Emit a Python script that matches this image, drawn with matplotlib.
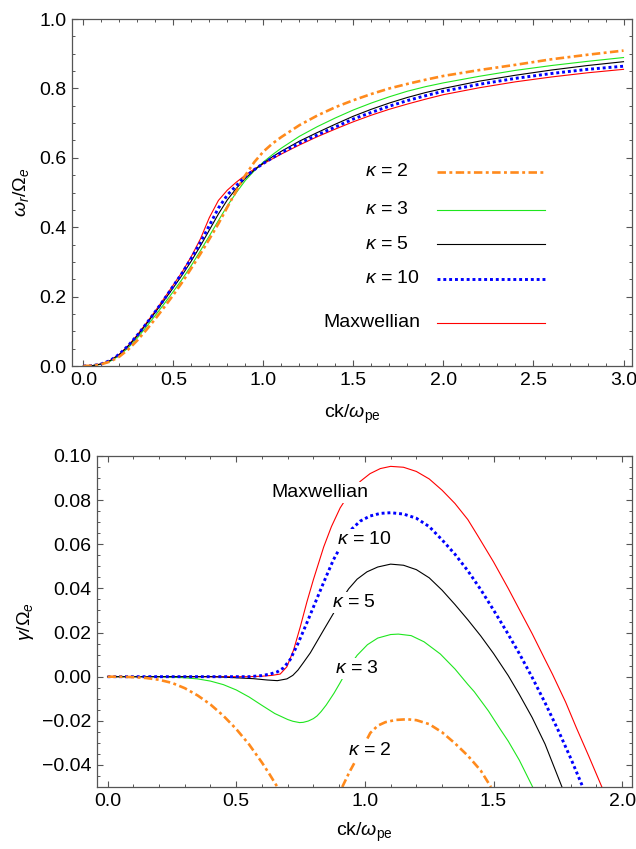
import matplotlib
matplotlib.use('Agg')
import matplotlib.pyplot as plt
from matplotlib.ticker import MultipleLocator, FuncFormatter

plt.rcParams['font.family'] = ['Liberation Sans', 'DejaVu Sans']
plt.rcParams['mathtext.fontset'] = 'custom'
plt.rcParams['mathtext.rm'] = 'Liberation Sans'
plt.rcParams['mathtext.it'] = 'Liberation Sans:italic'
plt.rcParams['axes.unicode_minus'] = True

# ---- real frequency  w_r / Omega_e  vs  ck / w_pe -------------------------
k_top = [0, 0.05, 0.1, 0.15, 0.2, 0.25, 0.3, 0.35, 0.4, 0.45, 0.5, 0.55, 0.6,
         0.65, 0.7, 0.75, 0.8, 0.85, 0.9, 0.95, 1.0, 1.05, 1.1, 1.2, 1.3, 1.4,
         1.5, 1.6, 1.7, 1.8, 1.9, 2.0, 2.2, 2.4, 2.6, 2.8, 3.0]
wr_k2 = [0, 0.001, 0.005, 0.013, 0.027, 0.048, 0.074, 0.104, 0.136, 0.170,
         0.205, 0.242, 0.282, 0.323, 0.366, 0.410, 0.458, 0.505, 0.550, 0.588,
         0.618, 0.641, 0.660, 0.694, 0.722, 0.746, 0.766, 0.784, 0.800, 0.813,
         0.825, 0.836, 0.853, 0.868, 0.884, 0.897, 0.909]
wr_k3 = [0, 0.001, 0.005, 0.014, 0.030, 0.053, 0.081, 0.113, 0.146, 0.180,
         0.215, 0.251, 0.290, 0.332, 0.375, 0.419, 0.462, 0.500, 0.535, 0.563,
         0.588, 0.609, 0.628, 0.662, 0.690, 0.715, 0.738, 0.758, 0.776, 0.792,
         0.805, 0.816, 0.835, 0.852, 0.866, 0.878, 0.889]
wr_k5 = [0, 0.001, 0.006, 0.016, 0.033, 0.058, 0.087, 0.121, 0.155, 0.190,
         0.226, 0.263, 0.303, 0.346, 0.392, 0.438, 0.479, 0.512, 0.541, 0.565,
         0.585, 0.603, 0.619, 0.648, 0.673, 0.697, 0.720, 0.740, 0.758, 0.774,
         0.788, 0.800, 0.821, 0.838, 0.853, 0.866, 0.877]
wr_k10 = [0, 0.001, 0.006, 0.016, 0.034, 0.059, 0.089, 0.122, 0.157, 0.193,
          0.231, 0.269, 0.311, 0.356, 0.405, 0.455, 0.493, 0.520, 0.546, 0.566,
          0.584, 0.600, 0.615, 0.642, 0.666, 0.689, 0.712, 0.731, 0.749, 0.765,
          0.779, 0.792, 0.812, 0.829, 0.843, 0.855, 0.864]
wr_max = [0, 0.001, 0.006, 0.016, 0.034, 0.059, 0.090, 0.124, 0.159, 0.196,
          0.234, 0.272, 0.316, 0.366, 0.428, 0.477, 0.507, 0.530, 0.550, 0.568,
          0.583, 0.597, 0.611, 0.637, 0.661, 0.683, 0.704, 0.723, 0.740, 0.755,
          0.769, 0.782, 0.802, 0.819, 0.833, 0.845, 0.855]

# ---- growth rate  gamma / Omega_e  vs  ck / w_pe ---------------------------
k_g2a = [0, 0.05, 0.1, 0.15, 0.2, 0.25, 0.3, 0.35, 0.4, 0.45, 0.5, 0.55, 0.6,
         0.63, 0.66]
g_k2a = [0, 0, -0.0002, -0.0006, -0.0014, -0.0028, -0.0052, -0.0085, -0.0126,
         -0.0177, -0.0237, -0.0307, -0.0389, -0.0443, -0.0500]
k_g2b = [0.912, 0.94, 0.969, 1.0, 1.021, 1.05, 1.08, 1.12, 1.164, 1.2, 1.25,
         1.3, 1.35, 1.4, 1.45, 1.49]
g_k2b = [-0.0500, -0.0432, -0.0370, -0.0302, -0.0255, -0.0222, -0.0206,
         -0.0196, -0.0193, -0.0197, -0.0215, -0.0252, -0.0302, -0.0358,
         -0.0425, -0.0500]

k_g3 = [0, 0.2, 0.25, 0.3, 0.35, 0.4, 0.45, 0.5, 0.55, 0.6, 0.65, 0.7, 0.72,
        0.746, 0.76, 0.78, 0.8, 0.814, 0.83, 0.85, 0.88, 0.904, 0.94, 0.97, 1.01,
        1.05, 1.1, 1.13, 1.18, 1.23, 1.293, 1.35, 1.4, 1.425, 1.48, 1.526,
        1.557, 1.6, 1.652]
g_k3 = [0, 0, -0.0002, -0.0005, -0.0010, -0.0020, -0.0036, -0.0060, -0.0092,
        -0.0130, -0.0167, -0.0194, -0.0202, -0.0208, -0.0207, -0.0201, -0.0190,
        -0.0178, -0.0158, -0.0128, -0.0075, -0.0027, 0.0048, 0.0097, 0.0145,
        0.0175, 0.0191, 0.0193, 0.0186, 0.0158, 0.0103, 0.0035, -0.0035,
        -0.0068, -0.0155, -0.0238, -0.0292, -0.0378, -0.0500]

k_g5 = [0, 0.4, 0.45, 0.5, 0.567, 0.62, 0.66, 0.697, 0.72, 0.74, 0.76, 0.788,
        0.81, 0.84, 0.878, 0.91, 0.937, 0.97, 1.008, 1.05, 1.1, 1.15, 1.2, 1.25,
        1.3, 1.35, 1.4, 1.45, 1.5, 1.557, 1.6, 1.65, 1.7, 1.766]
g_k5 = [0, 0, -0.0002, -0.0005, -0.0009, -0.0015, -0.0018, -0.0010, 0.0006,
        0.0030, 0.0062, 0.0108, 0.0152, 0.0212, 0.0287, 0.0350, 0.0398, 0.0442,
        0.0475, 0.0497, 0.0510, 0.0505, 0.0485, 0.0448, 0.0392, 0.0327, 0.0258,
        0.0185, 0.0105, 0.0005, -0.0080, -0.0185, -0.0305, -0.0500]

k_g10 = [0, 0.55, 0.6, 0.632, 0.66, 0.684, 0.71, 0.74, 0.775, 0.814, 0.85,
         0.878, 0.92, 0.95, 0.982, 1.02, 1.06, 1.1, 1.15, 1.2, 1.25, 1.3, 1.35,
         1.4, 1.45, 1.5, 1.55, 1.6, 1.65, 1.7, 1.75, 1.8, 1.845]
g_k10 = [0, 0, 0.0005, 0.0012, 0.0022, 0.0040, 0.0078, 0.0150, 0.0245, 0.0355,
         0.0455, 0.0530, 0.0620, 0.0670, 0.0705, 0.0728, 0.0740, 0.0743, 0.0737,
         0.0718, 0.0680, 0.0620, 0.0555, 0.0480, 0.0395, 0.0302, 0.0206, 0.0105,
         -0.0003, -0.0118, -0.0240, -0.0370, -0.0495]

k_gmax = [0, 0.55, 0.6, 0.64, 0.671, 0.697, 0.723, 0.749, 0.775, 0.80, 0.84,
          0.87, 0.904, 0.94, 0.982, 1.02, 1.06, 1.1, 1.15, 1.2, 1.25, 1.3, 1.35,
          1.4, 1.438, 1.5, 1.557, 1.6, 1.65, 1.7, 1.729, 1.78, 1.822, 1.87, 1.921]
g_max = [0, 0, 0.0002, 0.0006, 0.0012, 0.0045, 0.0121, 0.0226, 0.0340, 0.0440,
         0.0588, 0.0680, 0.0765, 0.0830, 0.0885, 0.0920, 0.0943, 0.0953, 0.0949,
         0.0930, 0.0896, 0.0845, 0.0785, 0.0712, 0.0640, 0.0520, 0.0400, 0.0305,
         0.0195, 0.0078, 0.0011, -0.0115, -0.0232, -0.0360, -0.0500]

ORANGE, GREEN, BLUE, RED = '#ff8a1c', '#1ee61e', '#0000ff', '#ff0000'
FRAME = '#555555'
FS = 14


def style(ax, xmaj, xmin, ymaj, ymin, yfmt):
    ax.xaxis.set_major_locator(MultipleLocator(xmaj))
    ax.xaxis.set_minor_locator(MultipleLocator(xmin))
    ax.yaxis.set_major_locator(MultipleLocator(ymaj))
    ax.yaxis.set_minor_locator(MultipleLocator(ymin))
    ax.xaxis.set_major_formatter(FuncFormatter(lambda v, p: f'{v:.1f}'))
    ax.yaxis.set_major_formatter(FuncFormatter(
        lambda v, p: (yfmt % (0.0 if abs(v) < 1e-9 else v)).replace('-', '\u2212')))
    ax.tick_params(which='both', direction='in', top=True, right=True,
                   color=FRAME, labelsize=FS, pad=4)
    ax.tick_params(which='major', length=4.5, width=0.8)
    ax.tick_params(which='minor', length=2.3, width=0.7)
    for s in ax.spines.values():
        s.set_color(FRAME)
        s.set_linewidth(0.9)


def dotdash(ax, x, y, **kw):
    ln, = ax.plot(x, y, color=ORANGE, lw=1.9, **kw)
    ln.set_dashes([3.2, 1.3, 1.1, 1.3])
    ln.set_dash_capstyle('butt')
    return ln


def dotted(ax, x, y, **kw):
    ln, = ax.plot(x, y, color=BLUE, lw=2.1, **kw)
    ln.set_dashes([1.0, 1.0])
    ln.set_dash_capstyle('butt')
    return ln


fig = plt.figure(figsize=(6.36, 8.49), dpi=100)
ax1 = fig.add_axes([0.1132, 0.5689, 0.8805, 0.4087])
ax2 = fig.add_axes([0.1525, 0.0730, 0.8412, 0.3899])

# top panel
ax1.plot(k_top, wr_max, color=RED, lw=0.8)
ax1.plot(k_top, wr_k3, color=GREEN, lw=0.8)
ax1.plot(k_top, wr_k5, color='black', lw=0.8)
dotted(ax1, k_top, wr_k10)
dotdash(ax1, k_top, wr_k2)
ax1.set_xlim(-0.063, 3.047)
ax1.set_ylim(0, 1.0)
style(ax1, 0.5, 0.1, 0.2, 0.05, '%.1f')
ax1.set_xlabel(r'ck/$\omega_{\mathrm{pe}}$', fontsize=FS, labelpad=10)
ax1.set_ylabel(r'$\omega_r/\Omega_e$', fontsize=FS, labelpad=6)

# hand-placed key: label, vertical position
legend_rows = [(r'$\kappa$ = 2', 0.560), (r'$\kappa$ = 3', 0.451),
               (r'$\kappa$ = 5', 0.351), (r'$\kappa$ = 10', 0.252),
               ('Maxwellian', 0.124)]
xl = [1.963, 2.565]
for (lab, yv), draw in zip(legend_rows, ['k2', 'k3', 'k5', 'k10', 'max']):
    xt = 1.332 if lab == 'Maxwellian' else 1.562
    ax1.text(xt, yv, lab, fontsize=FS, ha='left', va='center')
    if draw == 'k2':
        dotdash(ax1, xl, [yv, yv])
    elif draw == 'k10':
        dotted(ax1, xl, [yv, yv])
    else:
        c = {'k3': GREEN, 'k5': 'black', 'max': RED}[draw]
        ax1.plot(xl, [yv, yv], color=c, lw=0.8)

# bottom panel
ax2.plot(k_gmax, g_max, color=RED, lw=0.8)
ax2.plot(k_g3, g_k3, color=GREEN, lw=0.8)
ax2.plot(k_g5, g_k5, color='black', lw=0.8)
dotted(ax2, k_g10, g_k10)
dotdash(ax2, k_g2a, g_k2a)
dotdash(ax2, k_g2b, g_k2b)
ax2.set_xlim(-0.041, 2.038)
ax2.set_ylim(-0.05, 0.10)
style(ax2, 0.5, 0.1, 0.02, 0.005, '%.2f')
ax2.set_xlabel(r'ck/$\omega_{\mathrm{pe}}$', fontsize=FS, labelpad=8)
ax2.set_ylabel(r'$\gamma/\Omega_e$', fontsize=FS, labelpad=4)

box = dict(facecolor='white', edgecolor='none', pad=1.5)
for lab, xv, yv in [('Maxwellian', 0.824, 0.0833), (r'$\kappa$ = 10', 1.0, 0.0623),
                    (r'$\kappa$ = 5', 0.956, 0.0336), (r'$\kappa$ = 3', 0.969, 0.0038),
                    (r'$\kappa$ = 2', 1.019, -0.0335)]:
    ax2.text(xv, yv, lab, fontsize=FS, ha='center', va='center', bbox=box, zorder=5)

fig.savefig('out.png', dpi=100)
